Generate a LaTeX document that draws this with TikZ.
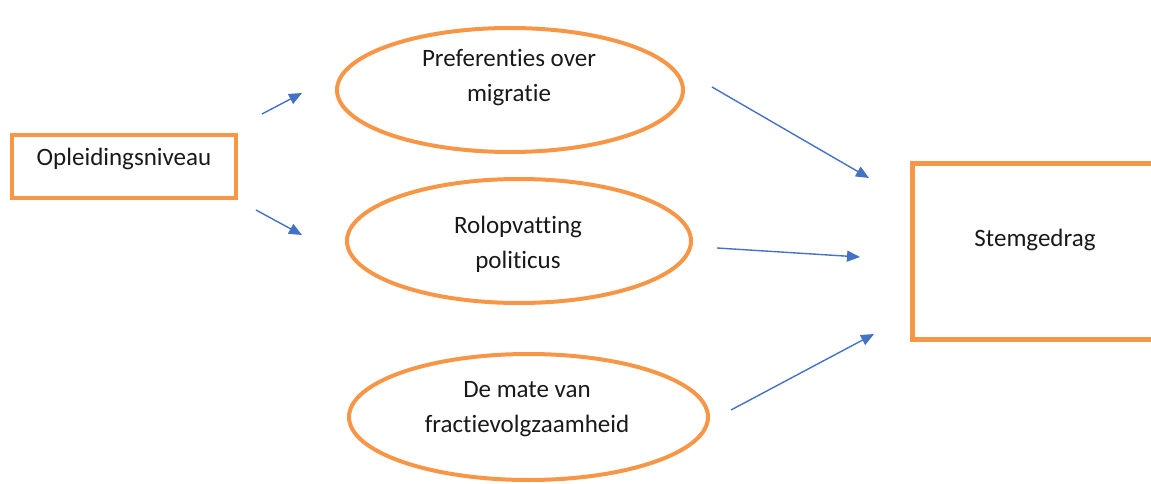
\documentclass[tikz,border=0pt]{standalone}
\usepackage{fontspec}
\setmainfont{Carlito}[Ligatures=NoCommon]
\usetikzlibrary{arrows.meta,shapes.geometric}
\definecolor{accent}{HTML}{F79646}
\definecolor{linkblue}{HTML}{4472C4}
\tikzset{
  frame/.style={rectangle, draw=accent, line width=4.5pt, inner sep=0pt},
  oval/.style={ellipse, draw=accent, line width=4pt, inner sep=0pt},
  lbl/.style={font=\fontsize{25}{35}\selectfont, align=center, anchor=base, inner sep=0pt, text=black!90},
  link/.style={draw=linkblue, line width=1.4pt, -{Triangle[length=13pt,width=11pt]}},
}
\begin{document}
\begin{tikzpicture}[x=1pt,y=-1pt]
  \useasboundingbox (0,0) rectangle (1151,484);
  \clip (0,0) rectangle (1151,484);

  % boxes
  \node[frame, minimum width=224pt, minimum height=63pt] (edu) at (124,166.5) {};
  \node[frame, minimum width=247pt, minimum height=176pt] (vote) at (1036,251.5) {};

  % mediating variables
  \node[oval, minimum width=346pt, minimum height=124pt] (pref) at (510,90) {};
  \node[oval, minimum width=344pt, minimum height=124pt] (role) at (519,241) {};
  \node[oval, minimum width=359pt, minimum height=126pt] (party) at (528.5,417) {};

  % labels (anchored at the baseline of the last line)
  \node[lbl] (eduT) at (124,165) {Opleidingsniveau};
  \node[lbl] (voteT) at (1035,246) {Stemgedrag};
  \node[lbl] (prefT) at (509,102) {Preferenties over\\migratie};
  \node[lbl] (roleT) at (518,268) {Rolopvatting\\politicus};
  \node[lbl] (partyT) at (527,432) {De mate van\\fractievolgzaamheid};

  % arrow end points
  \coordinate (a1s) at (262,114);  \coordinate (a1e) at (302,93);
  \coordinate (a2s) at (256,210);  \coordinate (a2e) at (302,235);
  \coordinate (a3s) at (712,87);   \coordinate (a3e) at (869,178);
  \coordinate (a4s) at (717,248);  \coordinate (a4e) at (860,257);
  \coordinate (a5s) at (731,410);  \coordinate (a5e) at (874,334);

  % arrows
  \draw[link] (a1s) -- (a1e);
  \draw[link] (a2s) -- (a2e);
  \draw[link] (a3s) -- (a3e);
  \draw[link] (a4s) -- (a4e);
  \draw[link] (a5s) -- (a5e);
\end{tikzpicture}
\end{document}
